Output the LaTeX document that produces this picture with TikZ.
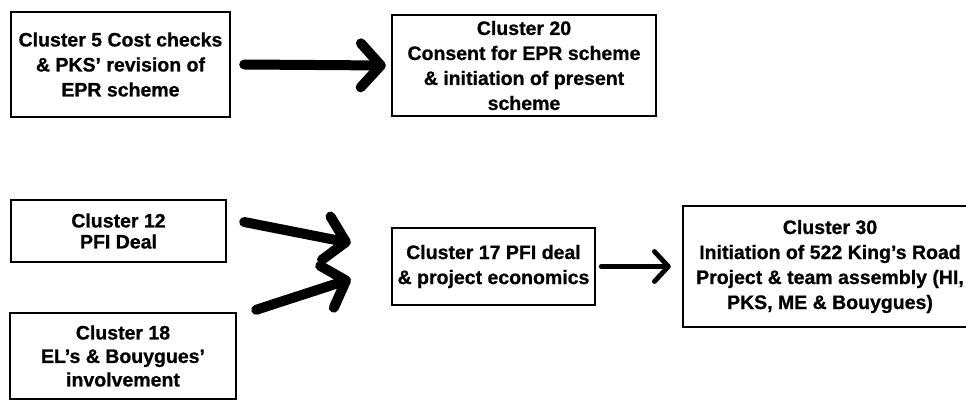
\documentclass[tikz,border=0pt]{standalone}
\usepackage{fontspec}
\setmainfont{Liberation Sans}
\newfontfamily\heavyfont{Liberation Sans}[UprightFont={* Bold}, FakeBold=0.8, Ligatures=TeX]
\usetikzlibrary{arrows.meta}
\begin{document}
\begin{tikzpicture}[x=1pt,y=-1pt,
  box/.style={draw, line width=2.4pt, inner sep=0pt, align=center,
    font=\fontsize{19.5}{25}\heavyfont},
  bigarrow/.style={line width=10pt, line cap=round,
    -{Straight Barb[length=20pt,width=44pt,round]}},
  smallarrow/.style={line width=4.8pt, line cap=round,
    -{Straight Barb[length=14pt,width=30pt,round]}}]
\useasboundingbox (0,0) rectangle (966,401);
\fill[white] (0,0) rectangle (966,401);
\node[box, minimum width=219pt, minimum height=105pt] (c5) at (120.5,64.5)
  {Cluster 5 Cost checks\\\& PKS’ revision of\\EPR scheme};
\node[box, minimum width=264pt, minimum height=101pt] (c20) at (524,65.5)
  {Cluster 20\\Consent for EPR scheme\\\& initiation of present\\scheme};
\node[box, minimum width=215pt, minimum height=62pt,
  font=\fontsize{19.5}{21}\heavyfont] (c12) at (118.5,231)
  {Cluster 12\\PFI Deal};
\node[box, minimum width=226pt, minimum height=86pt,
  font=\fontsize{19.5}{23.5}\heavyfont] (c18) at (123,356)
  {Cluster 18\\EL’s \& Bouygues’\\involvement};
\node[box, minimum width=203pt, minimum height=77pt] (c17) at (493.5,266.5)
  {Cluster 17 PFI deal\\\& project economics};
\node[box, minimum width=294pt, minimum height=121pt] (c30) at (830,266.5)
  {Cluster 30\\Initiation of 522 King’s Road\\Project \& team assembly (HI,\\PKS, ME \& Bouygues)};
\draw[bigarrow] ([xshift=13pt]c5.east) -- ([xshift=-5pt]c20.west);
\draw[bigarrow] ([xshift=17pt,yshift=9pt]c12.east) -- ([xshift=-40pt,yshift=23.5pt]c17.west);
\draw[bigarrow] ([xshift=19pt,yshift=2pt]c18.north east) -- ([xshift=-40pt,yshift=-12.5pt]c17.west);
\draw[smallarrow] ([xshift=5pt]c17.east) -- ([xshift=-11pt]c30.west);
\end{tikzpicture}
\end{document}
